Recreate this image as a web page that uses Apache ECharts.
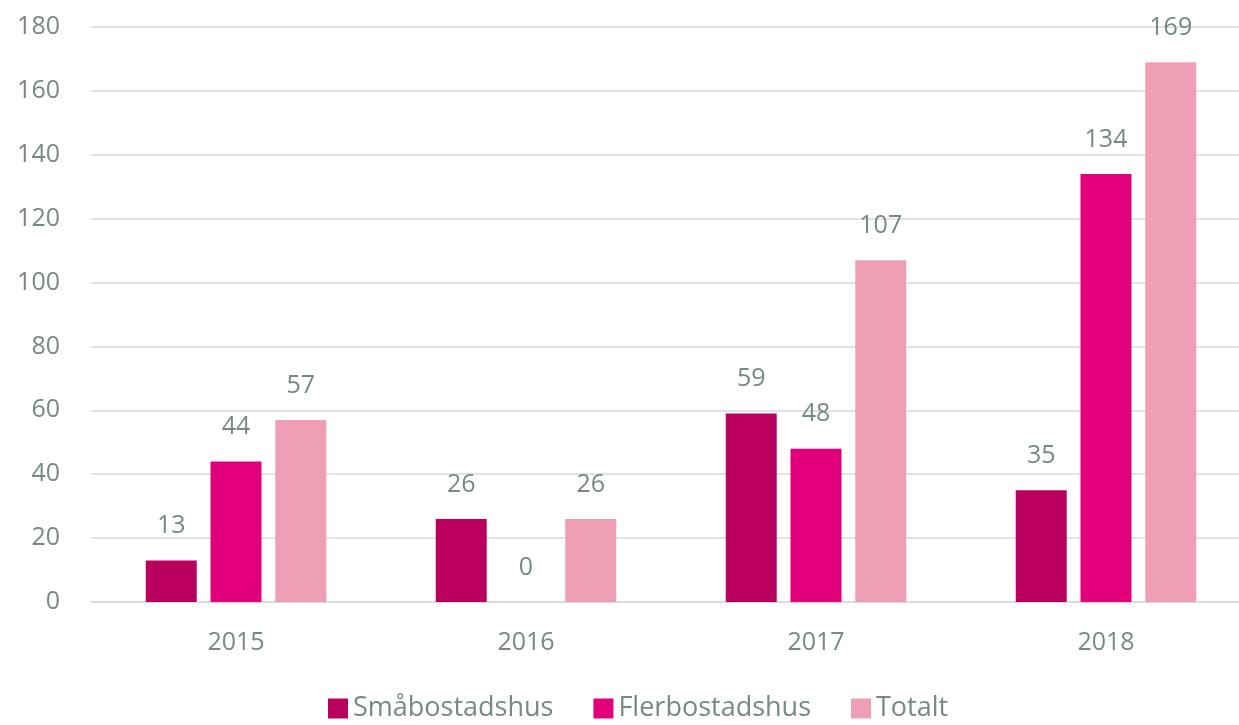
<!DOCTYPE html>
<html>
<head>
<meta charset="utf-8">
<script src="https://cdn.jsdelivr.net/npm/echarts@6/dist/echarts.min.js"></script>
<style>
  html, body { margin: 0; padding: 0; background: #fff; overflow: hidden; }
  #main { width: 1252px; height: 725px; }
</style>
</head>
<body>
<div id="main"></div>
<script>
const years = ['2015', '2016', '2017', '2018'];
const smabostadshus = [13, 26, 59, 35];
const flerbostadshus = [44, 0, 48, 134];
const totalt = [57, 26, 107, 169];

const textColor = '#768a7e';
const font = '"Open Sans", Lato, sans-serif';

const chart = echarts.init(document.getElementById('main'));

function makeSeries(name, data, color) {
  return {
    name: name,
    type: 'bar',
    data: data,
    barWidth: 51,
    barGap: '27%',
    itemStyle: { color: color },
    label: {
      show: true,
      position: 'top',
      distance: 22,
      color: textColor,
      fontSize: 25,
      fontFamily: font
    }
  };
}

const option = {
  animation: false,
  textStyle: { fontFamily: font },
  grid: {
    left: 91,
    right: 1,
    top: 27,
    bottom: 123
  },
  legend: {
    left: 323,
    bottom: -2,
    itemWidth: 20,
    itemHeight: 20,
    itemGap: 40,
    icon: 'rect',
    textStyle: { color: textColor, fontSize: 27, fontFamily: font, padding: [0, 0, 0, 0] }
  },
  xAxis: {
    type: 'category',
    data: years,
    axisTick: { show: false },
    axisLine: { lineStyle: { color: '#d9d9d9', width: 1.5 } },
    axisLabel: { color: textColor, fontSize: 25, fontFamily: font, margin: 28 }
  },
  yAxis: {
    type: 'value',
    min: 0,
    max: 180,
    interval: 20,
    axisLine: { show: false },
    axisTick: { show: false },
    splitLine: { lineStyle: { color: '#d9d9d9', width: 1.5 } },
    axisLabel: { color: textColor, fontSize: 25, fontFamily: font, margin: 31 }
  },
  series: [
    makeSeries('Småbostadshus', smabostadshus, '#ba005e'),
    makeSeries('Flerbostadshus', flerbostadshus, '#e2007a'),
    makeSeries('Totalt', totalt, '#ee9fb6')
  ]
};

chart.setOption(option);
</script>
</body>
</html>
